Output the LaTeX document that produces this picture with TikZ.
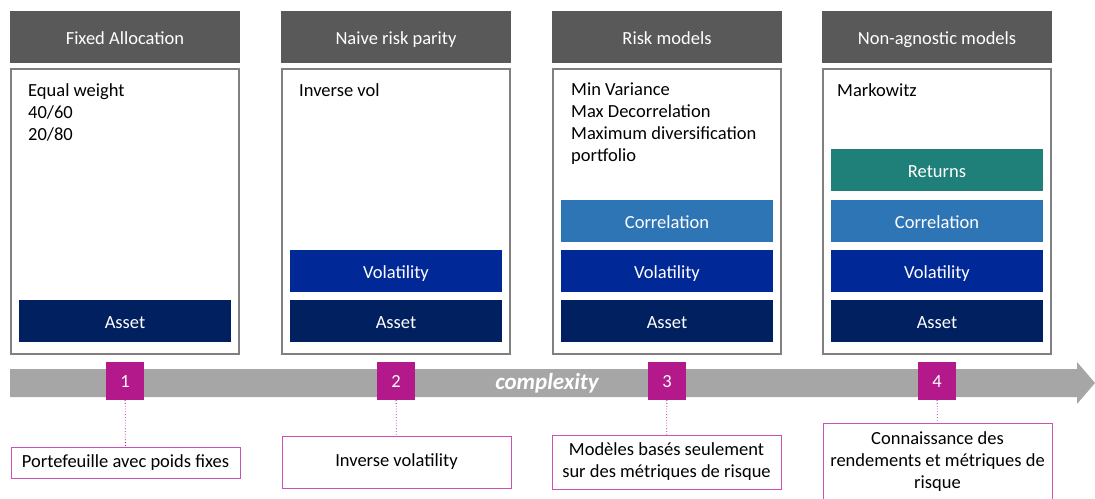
\documentclass[tikz,border=0pt]{standalone}
\usepackage{fontspec}
\setmainfont{Carlito}
\usepackage{tikz}

\definecolor{headgray}{RGB}{89,89,89}
\definecolor{panelgray}{RGB}{128,128,128}
\definecolor{assetblue}{RGB}{0,32,96}
\definecolor{volblue}{RGB}{0,40,150}
\definecolor{corblue}{RGB}{46,117,182}
\definecolor{retteal}{RGB}{31,128,122}
\definecolor{arrowgray}{RGB}{166,166,166}
\definecolor{numpink}{RGB}{180,25,140}
\definecolor{notepink}{RGB}{205,80,180}

\tikzset{
  every node/.style={font=\fontsize{18.5}{22}\selectfont},
  colhead/.style={fill=headgray, text=white, minimum width=230, minimum height=52, inner sep=0, text height=16, text depth=1},
  panel/.style={draw=panelgray, line width=2pt, minimum width=228, minimum height=285, inner sep=0},
  layer/.style={text=white, minimum width=212, minimum height=42, inner sep=0, text height=16, text depth=1},
  paneltext/.style={anchor=north west, align=left, inner sep=0},
  stepnum/.style={fill=numpink, text=white, minimum size=38, inner sep=0, text height=14, text depth=1},
  note/.style={draw=notepink, line width=0.8pt, minimum width=229, align=center, inner sep=0}
}

\begin{document}
\begin{tikzpicture}[x=1pt, y=-1pt]
\useasboundingbox (0,0) rectangle (1095,498);

\node[colhead] (head1) at (125, 36.5) {Fixed Allocation};
\node[colhead] (head2) at (396, 36.5) {Naive risk parity};
\node[colhead] (head3) at (667, 36.5) {Risk models};
\node[colhead] (head4) at (937, 36.5) {Non-agnostic models};

\node[panel] (panel1) at (125, 211.5) {};
\node[panel] (panel2) at (396, 211.5) {};
\node[panel] (panel3) at (667, 211.5) {};
\node[panel] (panel4) at (937, 211.5) {};

\node[paneltext] (txt1) at (28, 83) {Equal weight\\40/60\\20/80};
\node[paneltext] (txt2) at (299, 83) {Inverse vol};
\node[paneltext] (txt3) at (571, 83) {Min Variance\\Max Decorrelation\\Maximum diversification\\portfolio};
\node[paneltext] (txt4) at (837, 83) {Markowitz};

\node[layer, fill=assetblue] (asset1) at (125, 320.5) {Asset};

\node[layer, fill=assetblue] (asset2) at (396, 320.5) {Asset};
\node[layer, fill=volblue] (vol2) at (396, 270.5) {Volatility};

\node[layer, fill=assetblue] (asset3) at (667, 320.5) {Asset};
\node[layer, fill=volblue] (vol3) at (667, 270.5) {Volatility};
\node[layer, fill=corblue] (cor3) at (667, 220.5) {Correlation};

\node[layer, fill=assetblue] (asset4) at (937, 320.5) {Asset};
\node[layer, fill=volblue] (vol4) at (937, 270.5) {Volatility};
\node[layer, fill=corblue] (cor4) at (937, 220.5) {Correlation};
\node[layer, fill=retteal] (ret4) at (937, 170) {Returns};

% complexity axis
\fill[arrowgray] (10,369) -- (1077,369) -- (1077,362) -- (1095,383) -- (1077,404) -- (1077,397) -- (10,397) -- cycle;
\node[text=white, font=\fontsize{23}{24}\selectfont\bfseries\itshape] (cplx) at (547, 383) {complexity};

\node[stepnum] (num1) at (125, 381) {1};
\node[stepnum] (num2) at (396, 381) {2};
\node[stepnum] (num3) at (667, 381) {3};
\node[stepnum] (num4) at (937, 381) {4};

\node[note, minimum height=31] (note1) at (125.5, 462.5) {Portefeuille avec poids fixes};
\node[note, minimum height=52] (note2) at (396.5, 462) {Inverse volatility};
\node[note, minimum height=54] (note3) at (666.5, 462) {Modèles basés seulement\\sur des métriques de risque};
\node[note, minimum height=78] (note4) at (937.5, 462) {Connaissance des\\rendements et métriques de\\risque};

\draw[numpink, dotted, line width=0.8pt] (num1) -- (note1);
\draw[numpink, dotted, line width=0.8pt] (num2) -- (note2);
\draw[numpink, dotted, line width=0.8pt] (num3) -- (note3);
\draw[numpink, dotted, line width=0.8pt] (num4) -- (note4);
\end{tikzpicture}
\end{document}
